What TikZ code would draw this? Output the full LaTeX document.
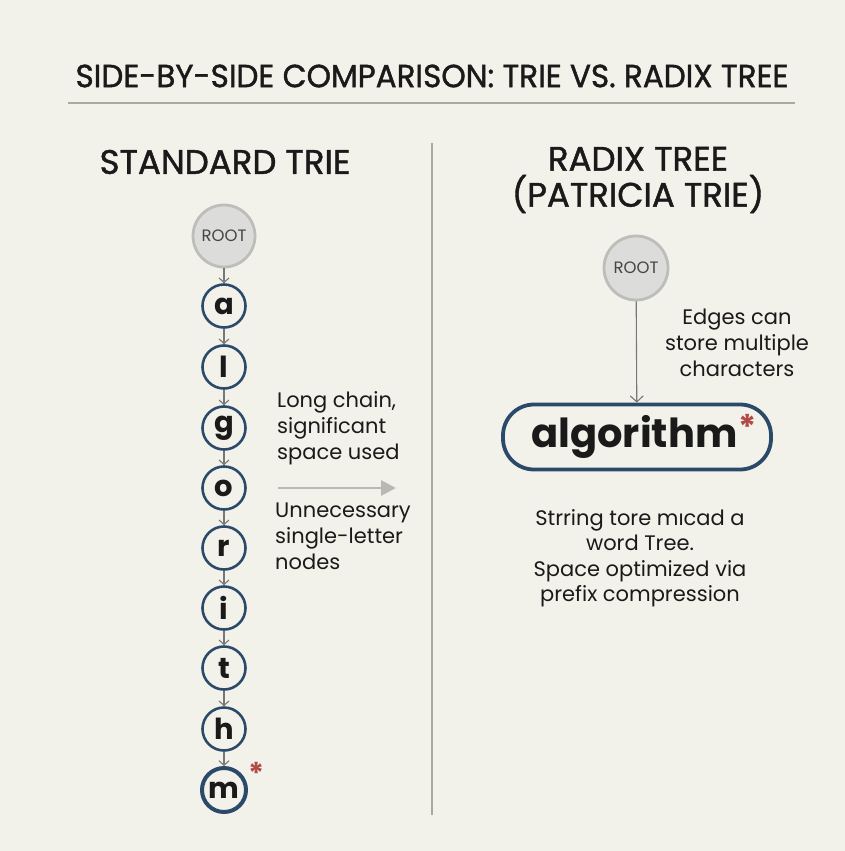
\documentclass[tikz,border=0pt]{standalone}
\usepackage{fontspec}
\setmainfont{Poppins}
\newfontfamily\medfont{Poppins}[FakeBold=1.3]
\usetikzlibrary{arrows.meta}
\definecolor{bg}{HTML}{F3F2EA}
\definecolor{navy}{HTML}{2B4A6A}
\definecolor{ink}{HTML}{1A1A1A}
\definecolor{chaingray}{HTML}{777777}
\definecolor{rootfill}{HTML}{DCDCDA}
\definecolor{rootborder}{HTML}{BDBDBA}
\definecolor{rootink}{HTML}{454545}
\definecolor{starred}{HTML}{B04A47}
\definecolor{rulegray}{HTML}{A9A9A2}
\definecolor{arrowgray}{HTML}{B9B9B4}
\tikzset{
  letter/.style={circle, draw=navy, line width=2.6pt, minimum size=43pt, inner sep=0pt,
    font=\bfseries\fontsize{29}{29}\selectfont, text=ink},
  rootnode/.style={circle, draw=rootborder, fill=rootfill, line width=2.8pt, inner sep=0pt,
    minimum size=62pt, font=\fontsize{16.5}{16.5}\selectfont, text=rootink},
  chain/.style={draw=chaingray, line width=1.1pt, -{Straight Barb[length=4.5pt,width=10pt]}},
  note/.style={font=\fontsize{21}{26}\selectfont, text=ink, inner sep=0pt},
  heading/.style={font=\medfont\fontsize{34}{36}\selectfont, text=ink, inner sep=0pt, align=center},
  star/.style={font=\bfseries\fontsize{30}{30}\selectfont, text=starred, inner sep=0pt}
}
\begin{document}
\begin{tikzpicture}[x=1pt,y=-1pt]
\fill[bg] (0,0) rectangle (845,851);
\useasboundingbox (0,0) rectangle (845,851);

% title
\node[font=\medfont\fontsize{32}{32}\selectfont, text=ink, inner sep=0pt] (title) at (432,76)
  {\scalebox{0.97}[1]{SIDE-BY-SIDE COMPARISON: TRIE VS. RADIX TREE}};
\coordinate (ruleL) at (68,103);
\coordinate (ruleR) at (795,103);
\draw[rulegray, line width=1.2pt] (ruleL) -- (ruleR);

% divider
\coordinate (divT) at (432,143);
\coordinate (divB) at (432,815);
\draw[rulegray, line width=1.2pt] (divT) -- (divB);

% left column
\node[heading] (hL) at (225,162) {STANDARD TRIE};
\node[rootnode] (r1) at (224,236) {ROOT};
\node[letter] (na) at (224,306) {a};
\node[letter] (nl) at (224,367) {l};
\node[letter] (ng) at (224,428) {g};
\node[letter] (no) at (224,488) {o};
\node[letter] (nr) at (224,548) {r};
\node[letter] (ni) at (224,608) {i};
\node[letter] (nt) at (224,668) {t};
\node[letter] (nh) at (224,729) {h};
\node[letter, line width=4pt, minimum size=44pt] (nm) at (224,790) {m};
\node[star] (s1) at (257,773) {*};
\draw[chain] (r1) -- (na);
\draw[chain] (na) -- (nl);
\draw[chain] (nl) -- (ng);
\draw[chain] (ng) -- (no);
\draw[chain] (no) -- (nr);
\draw[chain] (nr) -- (ni);
\draw[chain] (ni) -- (nt);
\draw[chain] (nt) -- (nh);
\draw[chain] (nh) -- (nm);

\node[note, anchor=north west, align=left] (t1) at (277,391) {Long chain,\\significant\\space used};
\coordinate (gaL) at (278,488);
\coordinate (gaR) at (396,488);
\draw[arrowgray, line width=2.8pt, -{Triangle[length=15pt,width=15pt]}] (gaL) -- (gaR);
\node[note, anchor=north west, align=left] (t2) at (275,503) {Unnecessary\\single-letter\\nodes};

% right column
\node[heading] (hR) at (638,180) {RADIX TREE\\(PATRICIA TRIE)};
\node[rootnode, minimum size=64pt] (r2) at (636,268) {ROOT};
\node[draw=navy, line width=3.8pt, rounded corners=31pt, minimum width=268pt, minimum height=65pt,
  inner sep=0pt, font=\bfseries\fontsize{40}{40}\selectfont, text=ink] (alg) at (637,437)
  {\hspace*{14pt}algorithm\hspace{1pt}\raisebox{8pt}[\height][\depth]{\textcolor{starred}{\fontsize{34}{34}\selectfont *}}};
\draw[chaingray, line width=1.1pt, -{Straight Barb[length=6pt,width=13pt]}] (r2) -- (alg);
\node[note, align=center] (t3) at (737,343) {Edges can\\store multiple\\characters};
\node[note, align=center, font=\fontsize{21}{25.5}\selectfont] (t4) at (640,558)
  {Strring tore mıcad a\\word Tree.\\Space optimized via\\prefix compression};
\end{tikzpicture}
\end{document}
